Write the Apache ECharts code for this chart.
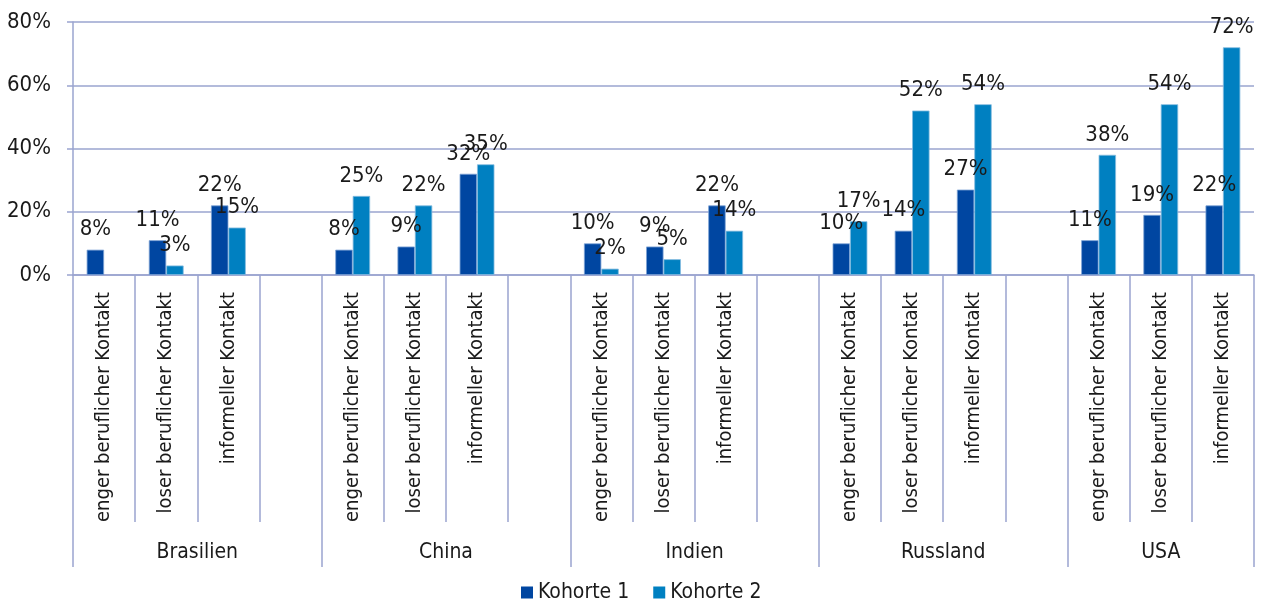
<!DOCTYPE html>
<html>
<head>
<meta charset="utf-8">
<script src="https://cdn.jsdelivr.net/npm/echarts@6/dist/echarts.min.js"></script>
<style>
  html, body { margin: 0; padding: 0; background: #fff; }
  #chart { width: 1264px; height: 604px; }
</style>
</head>
<body>
<div id="chart"></div>
<script>
// Contact types per country, two cohorts (share in %)
const countries = ['Brasilien', 'China', 'Indien', 'Russland', 'USA'];
const contactTypes = ['enger beruflicher Kontakt', 'loser beruflicher Kontakt', 'informeller Kontakt'];
const kohorte1 = [
  [8, 11, 22],   // Brasilien
  [8, 9, 32],    // China
  [10, 9, 22],   // Indien
  [10, 14, 27],  // Russland
  [11, 19, 22]   // USA
];
const kohorte2 = [
  [null, 3, 15],
  [25, 22, 35],
  [2, 5, 14],
  [17, 52, 54],
  [38, 54, 72]
];
const yTicks = [0, 20, 40, 60, 80];

const FONT = '"Liberation Sans Narrow", "Arial Narrow", "DejaVu Sans Condensed", sans-serif';
const LINE = '#9aa4cf';
const TEXT = '#1a1a1a';

// Flatten into slots: each country gets its contact types plus one empty spacer slot (except the last)
const slots = [], s1 = [], s2 = [];
const groupBounds = [0], groupCenters = [];
countries.forEach((c, i) => {
  const start = slots.length;
  contactTypes.forEach((t, j) => {
    slots.push(t);
    s1.push(kohorte1[i][j]);
    s2.push(kohorte2[i][j]);
  });
  if (i < countries.length - 1) { slots.push(''); s1.push(null); s2.push(null); }
  groupBounds.push(slots.length);
  groupCenters.push((start + slots.length) / 2);
});

const labelStyle = {
  show: true, position: 'top', distance: 9,
  formatter: p => p.value == null ? '' : p.value + '%',
  fontFamily: FONT, fontSize: 22, color: TEXT
};

const chart = echarts.init(document.getElementById('chart'));
chart.setOption({
  animation: false,
  textStyle: { fontFamily: FONT },
  grid: { left: 73, right: 10, top: 22, bottom: 329, containLabel: false },
  legend: {
    top: 582, left: 521, padding: 0, icon: 'rect', itemWidth: 12, itemHeight: 12, itemGap: 24,
    itemStyle: { borderWidth: 0 },
    textStyle: { fontFamily: FONT, fontSize: 21, color: TEXT },
    data: ['Kohorte 1', 'Kohorte 2']
  },
  xAxis: [
    {
      type: 'category', data: slots, boundaryGap: true,
      axisLine: { show: true, lineStyle: { color: LINE, width: 1.5 } },
      axisTick: { show: true, interval: 0, length: 247, lineStyle: { color: LINE, width: 1.5 } },
      axisLabel: { interval: 0, rotate: 90, margin: 17, fontFamily: FONT, fontSize: 20, color: TEXT },
      splitLine: { show: false }
    },
    {
      type: 'value', min: 0, max: slots.length, position: 'bottom',
      axisLine: { show: false },
      splitLine: { show: false },
      axisTick: { show: true, customValues: groupBounds, length: 292, lineStyle: { color: LINE, width: 1.5 } },
      axisLabel: {
        customValues: groupCenters, margin: 267,
        formatter: v => countries[groupCenters.indexOf(v)] || '',
        fontFamily: FONT, fontSize: 21, color: TEXT
      }
    }
  ],
  yAxis: {
    type: 'value', min: yTicks[0], max: yTicks[yTicks.length - 1], interval: 20,
    axisLine: { show: true, lineStyle: { color: LINE, width: 1.5 } },
    axisTick: { show: true, length: 6, lineStyle: { color: LINE, width: 1.5 } },
    axisLabel: { margin: 22, formatter: v => v + '%', fontFamily: FONT, fontSize: 22, color: TEXT },
    splitLine: { show: true, lineStyle: { color: LINE, width: 1.5 } }
  },
  series: [
    {
      name: 'Kohorte 1', type: 'bar', data: s1, barGap: '0%', barCategoryGap: '44%',
      itemStyle: { color: '#0046a1', borderColor: '#7da3d6', borderWidth: 0.8 },
      label: labelStyle
    },
    {
      name: 'Kohorte 2', type: 'bar', data: s2, barGap: '0%', barCategoryGap: '44%',
      itemStyle: { color: '#0080c1', borderColor: '#86bde0', borderWidth: 0.8 },
      label: labelStyle
    }
  ]
});
</script>
</body>
</html>
